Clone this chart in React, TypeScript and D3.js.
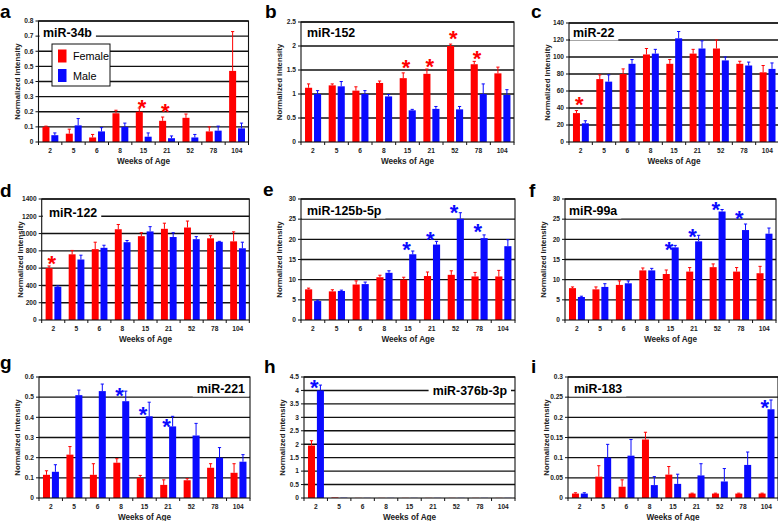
import React from "react";
import * as d3 from "d3";

const weeks = ["2", "5", "6", "8", "15", "21", "52", "78", "104"];

// a: miR-34b
const aFemale = [0.1, 0.055, 0.03, 0.19, 0.2, 0.14, 0.16, 0.07, 0.47];
const aFemaleErr = [0.005, 0.03, 0.02, 0.02, 0.025, 0.025, 0.025, 0.03, 0.26];
const aMale = [0.045, 0.11, 0.07, 0.1, 0.035, 0.025, 0.03, 0.075, 0.09];
const aMaleErr = [0.015, 0.045, 0.025, 0.025, 0.025, 0.015, 0.02, 0.03, 0.035];
const aStarWeeks = ["15", "21"];
const aStarLevels = [0.26, 0.238];

// b: miR-152
const bFemale = [1.13, 1.18, 1.07, 1.23, 1.33, 1.42, 2.0, 1.62, 1.43];
const bFemaleErr = [0.08, 0.03, 0.08, 0.04, 0.11, 0.1, 0.04, 0.06, 0.13];
const bMale = [1.0, 1.16, 1.0, 0.95, 0.66, 0.69, 0.68, 1.0, 0.98];
const bMaleErr = [0.07, 0.1, 0.07, 0.04, 0.02, 0.05, 0.06, 0.21, 0.11];
const bStarWeeks = ["15", "21", "52", "78"];
const bStarLevels = [1.65, 1.67, 2.26, 1.85];

// c: miR-22
const cFemale = [34, 74, 80, 103, 92, 104, 110, 92, 82];
const cFemaleErr = [3, 5, 6, 7, 5, 5, 10, 3, 8];
const cMale = [22, 71, 92, 104, 122, 110, 96, 90, 86];
const cMaleErr = [3, 8, 5, 5, 8, 9, 4, 4, 7];
const cStarWeeks = ["2"];
const cStarLevels = [50];

// d: miR-122
const dFemale = [600, 760, 820, 1050, 970, 1055, 1070, 945, 910];
const dFemaleErr = [25, 45, 80, 55, 40, 65, 75, 30, 110];
const dMale = [385, 700, 835, 900, 1025, 960, 935, 905, 830];
const dMaleErr = [10, 50, 30, 20, 55, 50, 30, 5, 70];
const dStarWeeks = ["2"];
const dStarLevels = [714];

// e: miR-125b-5p
const eFemale = [7.6, 7.1, 8.8, 10.6, 10.0, 10.9, 11.2, 10.8, 10.8];
const eFemaleErr = [0.3, 0.4, 0.9, 0.5, 0.6, 1.0, 1.0, 1.0, 1.5];
const eMale = [4.7, 7.2, 8.9, 11.7, 16.3, 18.7, 25.1, 20.3, 18.3];
const eMaleErr = [0.2, 0.2, 0.5, 0.5, 0.8, 0.8, 1.5, 0.8, 1.6];
const eStarWeeks = ["15", "21", "52", "78"];
const eStarLevels = [18.6, 21.1, 27.8, 23.1];

// f: miR-99a
const fFemale = [7.9, 7.6, 8.7, 12.3, 11.4, 12.0, 13.1, 12.0, 11.6];
const fFemaleErr = [0.3, 0.6, 1.0, 0.6, 1.0, 1.0, 0.8, 1.0, 1.7];
const fMale = [5.7, 8.2, 9.1, 12.3, 18.0, 19.5, 26.9, 22.3, 21.4];
const fMaleErr = [0.2, 0.8, 0.6, 0.5, 0.5, 1.5, 0.5, 1.5, 1.4];
const fStarWeeks = ["15", "21", "52", "78"];
const fStarLevels = [18.8, 21.9, 28.7, 26.5];

// g: miR-221
const gFemale = [0.115, 0.215, 0.115, 0.175, 0.1, 0.065, 0.088, 0.15, 0.125];
const gFemaleErr = [0.02, 0.04, 0.055, 0.02, 0.012, 0.025, 0.008, 0.02, 0.045];
const gMale = [0.13, 0.51, 0.53, 0.48, 0.405, 0.355, 0.31, 0.2, 0.18];
const gMaleErr = [0.035, 0.025, 0.035, 0.05, 0.07, 0.05, 0.06, 0.05, 0.035];
const gStarWeeks = ["8", "15", "21"];
const gStarLevels = [0.534, 0.438, 0.38];

// h: miR-376b-3p
const hFemale = [1.95, 0.02, 0.005, 0.005, 0.005, 0.005, 0.005, 0.005, 0.005];
const hFemaleErr = [0.18, 0, 0, 0, 0, 0, 0, 0, 0];
const hMale = [4.0, 0.01, 0.005, 0.005, 0.005, 0.005, 0.005, 0.005, 0.005];
const hMaleErr = [0.2, 0, 0, 0, 0, 0, 0, 0, 0];
const hStarWeeks = ["2"];
const hStarLevels = [4.29];

// i: miR-183
const iFemale = [0.011, 0.053, 0.028, 0.145, 0.058, 0.011, 0.011, 0.011, 0.011];
const iFemaleErr = [0.002, 0.027, 0.017, 0.018, 0.02, 0.001, 0.001, 0.001, 0.001];
const iMale = [0.011, 0.1, 0.105, 0.032, 0.035, 0.056, 0.041, 0.082, 0.22];
const iMaleErr = [0.002, 0.033, 0.04, 0.021, 0.024, 0.029, 0.032, 0.032, 0.023];
const iStarWeeks = ["104"];
const iStarLevels = [0.238];

const RED = "#ff0000";
const BLUE = "#0a0aff";
const FONT = "'Liberation Sans', Arial, sans-serif";

const panels = [
  { letter: "a", title: "miR-34b", female: aFemale, femaleErr: aFemaleErr, male: aMale, maleErr: aMaleErr, yMax: 0.8, yStep: 0.1, starWeeks: aStarWeeks, starLevels: aStarLevels, starColor: RED,
    x0: 38.5, x1: 248.5, y0: 21, y1: 142, lx: 0, ly: 18, tx: 43, ty: 33, tAnchor: "start", legend: true },
  { letter: "b", title: "miR-152", female: bFemale, femaleErr: bFemaleErr, male: bMale, maleErr: bMaleErr, yMax: 2.5, yStep: 0.5, starWeeks: bStarWeeks, starLevels: bStarLevels, starColor: RED,
    x0: 301, x1: 514, y0: 22, y1: 142, lx: 265, ly: 18, tx: 307, ty: 33, tAnchor: "start" },
  { letter: "c", title: "miR-22", female: cFemale, femaleErr: cFemaleErr, male: cMale, maleErr: cMaleErr, yMax: 140, yStep: 20, starWeeks: cStarWeeks, starLevels: cStarLevels, starColor: RED,
    x0: 569, x1: 779, y0: 23, y1: 142, lx: 531, ly: 18, tx: 573, ty: 33, tAnchor: "start" },
  { letter: "d", title: "miR-122", female: dFemale, femaleErr: dFemaleErr, male: dMale, maleErr: dMaleErr, yMax: 1400, yStep: 200, starWeeks: dStarWeeks, starLevels: dStarLevels, starColor: RED,
    x0: 41.7, x1: 249.3, y0: 199, y1: 320, lx: 0, ly: 197, tx: 49, ty: 213, tAnchor: "start" },
  { letter: "e", title: "miR-125b-5p", female: eFemale, femaleErr: eFemaleErr, male: eMale, maleErr: eMaleErr, yMax: 30, yStep: 5, starWeeks: eStarWeeks, starLevels: eStarLevels, starColor: BLUE,
    x0: 301, x1: 515, y0: 199, y1: 320, lx: 263, ly: 196, tx: 307, ty: 211, tAnchor: "start" },
  { letter: "f", title: "miR-99a", female: fFemale, femaleErr: fFemaleErr, male: fMale, maleErr: fMaleErr, yMax: 30, yStep: 5, starWeeks: fStarWeeks, starLevels: fStarLevels, starColor: BLUE,
    x0: 565, x1: 776, y0: 199, y1: 320, lx: 529, ly: 197, tx: 569, ty: 211, tAnchor: "start" },
  { letter: "g", title: "miR-221", female: gFemale, femaleErr: gFemaleErr, male: gMale, maleErr: gMaleErr, yMax: 0.6, yStep: 0.1, starWeeks: gStarWeeks, starLevels: gStarLevels, starColor: BLUE,
    x0: 39, x1: 250, y0: 377, y1: 498, lx: 0, ly: 369, tx: 245, ty: 389, tAnchor: "end" },
  { letter: "h", title: "miR-376b-3p", female: hFemale, femaleErr: hFemaleErr, male: hMale, maleErr: hMaleErr, yMax: 4.5, yStep: 0.5, starWeeks: hStarWeeks, starLevels: hStarLevels, starColor: BLUE,
    x0: 304, x1: 515, y0: 377, y1: 498, lx: 264, ly: 373, tx: 507, ty: 391, tAnchor: "end" },
  { letter: "i", title: "miR-183", female: iFemale, femaleErr: iFemaleErr, male: iMale, maleErr: iMaleErr, yMax: 0.3, yStep: 0.05, starWeeks: iStarWeeks, starLevels: iStarLevels, starColor: BLUE,
    x0: 568, x1: 778, y0: 377, y1: 498, lx: 531, ly: 373, tx: 574, ty: 389, tAnchor: "start" },
];

const fmt = (v: number) => String(Math.round(v * 1000) / 1000);

function approxWidth(s: string, size: number) {
  const w: Record<string, number> = { m: 0.889, i: 0.278, R: 0.722, "-": 0.333, b: 0.611, p: 0.611, a: 0.556 };
  let t = 0;
  for (const ch of s) t += w[ch] ?? 0.556;
  return t * size;
}

function Panel({ p }: { p: any }) {
  const x = d3.scaleBand<string>().domain(weeks).range([p.x0, p.x1]).padding(0);
  const y = d3.scaleLinear().domain([0, p.yMax]).range([p.y1, p.y0]);
  const bw = x.bandwidth();
  const ticks = d3.range(0, p.yMax + p.yStep / 2, p.yStep);
  const barW = bw * 0.3;
  const fOff = bw * 0.17;
  const mOff = bw * 0.55;
  const titleSize = 12.4;
  const tw = approxWidth(p.title, titleSize);
  const boxX = p.tAnchor === "start" ? p.x0 + 1 : p.tx - tw - 4;
  const boxW = p.tAnchor === "start" ? p.tx + tw + 4 - boxX : tw + 8;
  const errBar = (cx: number, v: number, e: number, color: string, key: string) => {
    if (!e) return null;
    return (
      <g key={key} stroke={color} strokeWidth={1}>
        <line x1={cx} x2={cx} y1={y(v)} y2={y(v + e)} />
        <line x1={cx - 1.6} x2={cx + 1.6} y1={y(v + e)} y2={y(v + e)} />
      </g>
    );
  };
  return (
    <g>
      <rect x={p.x0} y={p.y0} width={p.x1 - p.x0} height={p.y1 - p.y0} fill="#fff" />
      {ticks.slice(1).map((t: number) => (
        <line key={"g" + t} x1={p.x0} x2={p.x1} y1={y(t)} y2={y(t)} stroke="#111" strokeWidth={1.4} />
      ))}
      <rect x={boxX} y={p.ty - 7.5} width={boxW} height={15} fill="#fff" />
      <text x={p.tx} y={p.ty + 4.4} fontSize={titleSize} fontWeight="bold" textAnchor={p.tAnchor} fontFamily={FONT} fill="#000">
        {p.title}
      </text>
      {weeks.map((w, i) => (
        <g key={"b" + w}>
          <rect x={x(w)! + fOff} y={y(p.female[i])} width={barW} height={p.y1 - y(p.female[i])} fill={RED} />
          <rect x={x(w)! + mOff} y={y(p.male[i])} width={barW} height={p.y1 - y(p.male[i])} fill={BLUE} />
          {errBar(x(w)! + fOff + barW / 2, p.female[i], p.femaleErr[i], RED, "fe")}
          {errBar(x(w)! + mOff + barW / 2, p.male[i], p.maleErr[i], BLUE, "me")}
        </g>
      ))}
      <rect x={p.x0} y={p.y0} width={p.x1 - p.x0} height={p.y1 - p.y0} fill="none" stroke="#111" strokeWidth={1.1} />
      {ticks.map((t: number) => (
        <g key={"yt" + t}>
          <line x1={p.x0 - 3} x2={p.x0} y1={y(t)} y2={y(t)} stroke="#111" strokeWidth={1} />
          <text x={p.x0 - 5} y={y(t) + 2.3} fontSize={6.6} fontWeight="bold" textAnchor="end" fontFamily={FONT} fill="#222">
            {fmt(t)}
          </text>
        </g>
      ))}
      {weeks.map((w) => (
        <g key={"xt" + w}>
          <line x1={x(w)!} x2={x(w)!} y1={p.y1} y2={p.y1 + 3} stroke="#111" strokeWidth={1} />
          <text x={x(w)! + bw / 2} y={p.y1 + 11.3} fontSize={6.6} fontWeight="bold" textAnchor="middle" fontFamily={FONT} fill="#222">
            {w}
          </text>
        </g>
      ))}
      <line x1={p.x1} x2={p.x1} y1={p.y1} y2={p.y1 + 3} stroke="#111" strokeWidth={1} />
      <text x={(p.x0 + p.x1) / 2} y={p.y1 + 22} fontSize={8.2} fontWeight="bold" textAnchor="middle" fontFamily={FONT} fill="#222">
        Weeks of Age
      </text>
      <text
        transform={`translate(${p.x0 - 19},${(p.y0 + p.y1) / 2}) rotate(-90)`}
        fontSize={7.8}
        fontWeight="bold"
        textAnchor="middle"
        fontFamily={FONT}
        fill="#222"
      >
        Normalized Intensity
      </text>
      {p.starWeeks.map((w: string, k: number) => (
        <text key={"s" + w} x={x(w)! + bw / 2 - 1.5} y={y(p.starLevels[k]) + 12.5} fontSize={22} fontWeight="bold" textAnchor="middle" fontFamily={FONT} fill={p.starColor}>
          *
        </text>
      ))}
      <text x={p.lx} y={p.ly} fontSize={19} fontWeight="bold" fontFamily={FONT} fill="#000">
        {p.letter}
      </text>
      {p.legend && (
        <g>
          <rect x={52} y={44} width={58} height={42} fill="#fff" stroke="#111" strokeWidth={1} />
          <rect x={58} y={49.5} width={8.5} height={13} fill={RED} />
          <rect x={58} y={69} width={8.5} height={13} fill={BLUE} />
          <text x={73} y={60} fontSize={10.8} fontFamily={FONT} fill="#000">Female</text>
          <text x={73} y={80} fontSize={10.8} fontFamily={FONT} fill="#000">Male</text>
        </g>
      )}
    </g>
  );
}

export default function App() {
  return (
    <svg width={778} height={521} style={{ position: "absolute", left: 0, top: 0, background: "#fff" }}>
      <rect width={778} height={521} fill="#fff" />
      {panels.map((p) => (
        <Panel key={p.letter} p={p} />
      ))}
    </svg>
  );
}
